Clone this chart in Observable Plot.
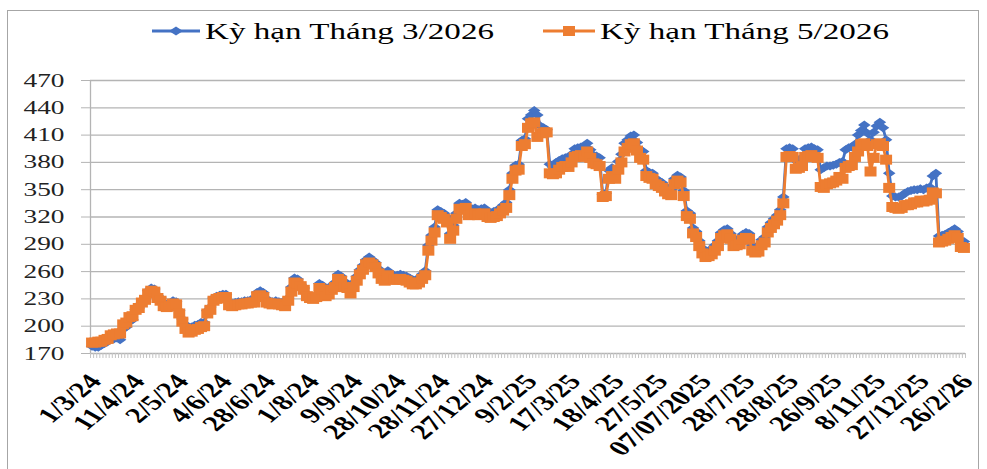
<!DOCTYPE html>
<html><head><meta charset="utf-8">
<script src="https://cdn.jsdelivr.net/npm/d3@7"></script>
<script src="https://cdn.jsdelivr.net/npm/@observablehq/plot@0.6"></script>
<style>
body{margin:0;background:#fff;}
#wrap{position:relative;width:987px;height:469px;overflow:hidden;font-family:"Liberation Serif",serif;background:#fff;}
#frame{position:absolute;left:7px;top:10px;width:972px;height:480px;border:1px solid #a6a6a6;box-sizing:border-box;}
#legend{position:absolute;top:0;left:0;}
#chart{position:absolute;top:52px;left:0;}
</style></head><body>
<div id="wrap"><div id="frame"></div><div id="legend"></div><div id="chart"></div></div>
<script>
// ---- data ----
const seriesNames = ["Kỳ hạn Tháng 3/2026", "Kỳ hạn Tháng 5/2026"];
const tickLabels = ["1/3/24","11/4/24","2/5/24","4/6/24","28/6/24","1/8/24","9/9/24","28/10/24","28/11/24","27/12/24","9/2/25","17/3/25","18/4/25","27/5/25","07/07/2025","28/7/25","28/8/25","26/9/25","8/11/25","27/12/25","26/2/26"];
const labelEvery = 14;
const yTicks = [170,200,230,260,290,320,350,380,410,440,470];
// Kỳ hạn Tháng 5/2026
const series5 = [
182,182,183,183,185,186,190,191,192,192,202,204,210,211,218,220,226,229,236,239,
238,231,228,222,221,222,225,224,214,205,197,193,194,196,197,199,200,214,218,228,
230,231,232,232,223,222,223,224,224,225,225,226,226,233,234,232,226,225,224,225,
224,223,222,228,238,248,247,244,240,233,231,230,232,242,240,233,235,240,243,252,
250,243,242,236,243,250,257,262,268,270,268,265,258,252,250,256,252,251,251,252,
251,250,248,246,246,248,252,256,283,294,303,322,320,318,314,296,305,318,329,328,
330,322,323,324,322,323,324,320,319,320,321,324,327,330,344,362,371,372,398,400,
418,423,424,408,412,413,413,368,367,368,372,375,376,375,380,386,387,388,386,392,
385,379,378,376,342,343,362,365,362,372,380,392,396,400,401,393,385,383,365,363,
362,356,354,352,348,345,344,356,360,358,343,321,318,302,298,288,280,276,277,279,
283,288,297,300,301,296,288,289,290,295,297,296,283,281,282,289,292,303,308,312,
316,322,335,386,387,386,373,374,376,386,387,388,386,385,353,352,356,357,358,360,
364,362,374,376,377,386,392,400,401,398,370,385,400,401,398,383,352,331,330,329,
330,333,333,334,336,336,338,337,338,339,347,346,292,293,294,296,298,300,297,287,
286];
// Kỳ hạn Tháng 3/2026
const series3 = [
178,177,177,179,181,183,186,186,187,185,197,199,205,207,218,220,226,230,239,242,
241,234,231,225,224,225,228,227,217,208,202,198,199,201,202,204,204,217,221,231,
233,234,235,235,226,225,226,227,227,228,228,229,229,237,239,237,229,228,227,228,
227,226,225,231,243,253,252,246,242,235,232,231,234,247,245,238,240,245,248,257,
255,248,247,241,248,255,262,267,273,276,273,270,263,257,255,261,257,256,256,257,
256,255,253,251,251,253,257,261,289,300,309,328,326,324,320,302,311,324,335,334,
336,328,329,330,328,329,330,326,325,326,327,330,333,336,350,368,377,378,404,406,
428,432,437,432,420,418,416,378,375,380,382,384,385,384,389,395,396,397,395,401,
394,388,387,385,345,346,371,374,371,381,389,401,405,409,410,402,394,392,371,369,
368,362,360,358,354,351,350,362,366,364,349,327,324,308,304,294,286,282,283,285,
289,294,303,306,307,302,294,295,296,301,303,302,289,287,288,295,298,309,314,318,
322,328,342,395,396,395,382,383,385,395,396,397,395,394,372,374,376,376,377,378,
380,381,394,396,397,400,410,415,421,412,405,413,420,424,418,405,368,343,342,342,
343,346,348,349,350,350,351,350,352,353,365,368,299,300,301,303,305,307,304,294,
293];

// ---- legend ----
const legendSvg = `<svg width="987" height="52" xmlns="http://www.w3.org/2000/svg">
<line x1="152" x2="200" y1="31" y2="31" stroke="#4472C4" stroke-width="3"/>
<path d="M176,26.5 L183,31 L176,35.5 L169,31Z" fill="#4472C4"/>
<text transform="translate(205,39) scale(1.44,1)" font-size="23" font-family="Liberation Serif" fill="#000">${seriesNames[0]}</text>
<line x1="543" x2="595" y1="31" y2="31" stroke="#ED7D31" stroke-width="3"/>
<rect x="563" y="26" width="12" height="10" fill="#ED7D31"/>
<text transform="translate(600,39) scale(1.44,1)" font-size="23" font-family="Liberation Serif" fill="#000">${seriesNames[1]}</text>
</svg>`;
document.getElementById("legend").innerHTML = legendSvg;

// ---- chart ----
const N = series5.length;
const rows3 = series3.map((v, i) => ({i, v}));
const rows5 = series5.map((v, i) => ({i, v}));
const wideDiamond = {draw(ctx, size) {const r = Math.sqrt(size / Math.PI); const w = r * 1.4, h = r; ctx.moveTo(0, -h); ctx.lineTo(w, 0); ctx.lineTo(0, h); ctx.lineTo(-w, 0); ctx.closePath();}};
const wideSquare = {draw(ctx, size) {const r = Math.sqrt(size / Math.PI); const w = r * 1.2, h = r; ctx.rect(-w, -h, 2 * w, 2 * h);}};
const catTicks = d3.range(N + 1).map(k => k - 0.5);
const labelIdx = tickLabels.map((_, j) => j * labelEvery);

const chart = Plot.plot({
  width: 987, height: 417,
  marginLeft: 90, marginRight: 22, marginTop: 28, marginBottom: 116,
  x: {type: "linear", domain: [-0.5, N - 0.5], label: null},
  y: {domain: [170, 470], label: null},
  style: {fontFamily: "Liberation Serif", background: "transparent", overflow: "visible"},
  marks: [
    Plot.gridY(yTicks, {stroke: "#b4b4b4", strokeOpacity: 1, strokeWidth: 1.3}),
    Plot.axisY(yTicks, {tickSize: 9, stroke: "#b4b4b4", tickPadding: 17, fontSize: 19, fill: "#222", label: null, tickFormat: d => d}),
    Plot.ruleX([-0.5], {stroke: "#b4b4b4", strokeWidth: 1.3}),
    Plot.ruleX(catTicks, {x: d => d, y1: 170, y2: 164.5, stroke: "#c4c4c4", strokeWidth: 1, clip: false}),
    Plot.axisX(labelIdx, {tickSize: 0, tickPadding: 0, fontSize: 21.5, fontWeight: "bold", fill: "#000", label: null, tickFormat: i => tickLabels[i / labelEvery]}),
    Plot.line(rows3, {x: "i", y: "v", stroke: "#4472C4", strokeWidth: 2.8}),
    Plot.dot(rows3, {x: "i", y: "v", symbol: wideDiamond, r: 4.5, fill: "#4472C4", stroke: "none"}),
    Plot.line(rows5, {x: "i", y: "v", stroke: "#ED7D31", strokeWidth: 2.8}),
    Plot.dot(rows5, {x: "i", y: "v", symbol: wideSquare, r: 5, fill: "#ED7D31", stroke: "none"})
  ]
});

// emulate the horizontally-stretched look of the original text
function anchorOf(t) {
  let tx = 0, ty = 0;
  const tr = t.getAttribute("transform") || "";
  const m = tr.match(/translate\(\s*([-\d.e]+)[\s,]*([-\d.e]+)?\s*\)/);
  if (m) { tx += +m[1]; ty += m[2] != null ? +m[2] : 0; }
  const xs = t.getAttribute("x"), ys = t.getAttribute("y");
  if (xs != null && !/em/.test(xs) && !isNaN(parseFloat(xs))) tx += parseFloat(xs);
  if (ys != null && !/em/.test(ys) && !isNaN(parseFloat(ys))) ty += parseFloat(ys);
  t.removeAttribute("x"); t.removeAttribute("y");
  return [tx, ty];
}
chart.querySelectorAll('g[aria-label="y-axis tick label"] text').forEach(t => {
  const [tx, ty] = anchorOf(t);
  t.setAttribute("text-anchor", "end");
  t.setAttribute("dy", "0.32em");
  t.setAttribute("transform", `translate(${tx},${ty}) scale(1.44,1)`);
});
chart.querySelectorAll('g[aria-label="x-axis tick label"] text').forEach(t => {
  const [tx, ty] = anchorOf(t);
  t.setAttribute("text-anchor", "end");
  t.setAttribute("dy", "0.32em");
  t.setAttribute("transform", `translate(${tx + 3},${ty + 24}) scale(1.44,1) rotate(-50)`);
});
document.getElementById("chart").appendChild(chart);
</script>
</body></html>
